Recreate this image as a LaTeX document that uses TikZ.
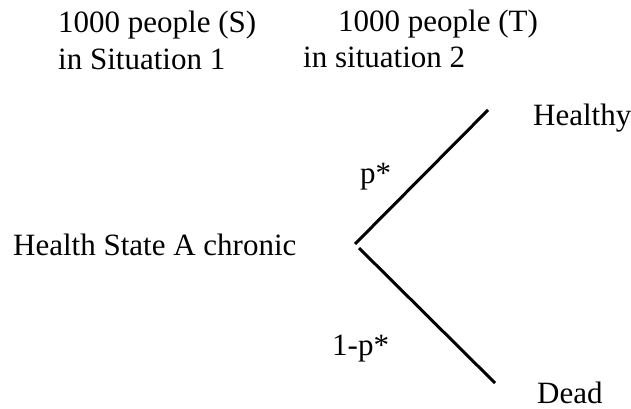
\documentclass[tikz,border=0pt]{standalone}
\usepackage{fontspec}
\setmainfont{Liberation Serif}
\begin{document}
\begin{tikzpicture}[x=1pt,y=-1pt,
  lbl/.style={anchor=base west,inner sep=0pt,font=\fontsize{31}{37}\selectfont},
  branch/.style={line width=3pt,line cap=butt}]
\useasboundingbox (0,0) rectangle (631,409);
\node[lbl] (s1a) at (58,33) {1000 people (S)};
\node[lbl] (s1b) at (58,70) {in Situation 1};
\node[lbl] (s2a) at (338,32) {1000 people (T)};
\node[lbl] (s2b) at (303,68) {in situation 2};
\node[lbl] (healthy) at (533,125) {Healthy};
\node[lbl] (pstar) at (360,183) {p*};
\node[lbl] (hsa) at (13,255) {Health State A chronic};
\node[lbl] (onep) at (332,355) {1-p*};
\node[lbl] (dead) at (537,403) {Dead};
\coordinate (root) at (355,244);
\coordinate (up) at (488,110);
\coordinate (lowstart) at (359,248);
\coordinate (low) at (495,383);
\draw[branch] (root) -- (up);
\draw[branch] (lowstart) -- (low);
\end{tikzpicture}
\end{document}
